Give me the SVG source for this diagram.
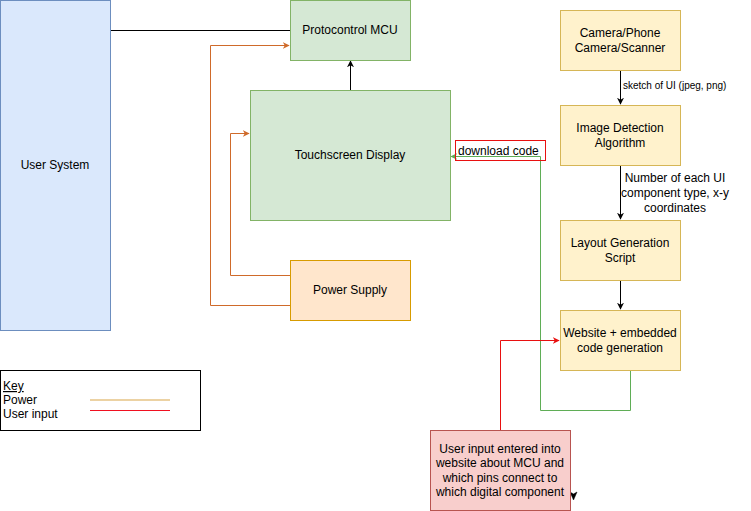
<svg xmlns="http://www.w3.org/2000/svg" width="751" height="511" viewBox="0 0 751 511">
<style>
text{font-family:"Liberation Sans",Arial,Helvetica,sans-serif;font-size:12px;fill:#000}
.c{text-anchor:middle}
.blue{fill:#dae8fc;stroke:#6c8ebf}
.green{fill:#d5e8d4;stroke:#82b366}
.orange{fill:#ffe6cc;stroke:#d79b00}
.yellow{fill:#fff2cc;stroke:#d6b656}
.red{fill:#f8cecc;stroke:#b85450}
.e{fill:none;stroke-width:1}
</style>
<defs>
<marker id="ab" viewBox="0 0 10 10" refX="9" refY="5" markerWidth="7" markerHeight="7" orient="auto" markerUnits="userSpaceOnUse"><path d="M0,0 L10,5 L0,10 L3,5 Z" fill="#000"/></marker>
<marker id="ao" viewBox="0 0 10 10" refX="9" refY="5" markerWidth="7" markerHeight="7" orient="auto" markerUnits="userSpaceOnUse"><path d="M0,0 L10,5 L0,10 L3,5 Z" fill="#cf6a2a"/></marker>
<marker id="ag" viewBox="0 0 10 10" refX="9" refY="5" markerWidth="7" markerHeight="7" orient="auto" markerUnits="userSpaceOnUse"><path d="M0,0 L10,5 L0,10 L3,5 Z" fill="#5fad56"/></marker>
<marker id="ar" viewBox="0 0 10 10" refX="9" refY="5" markerWidth="7" markerHeight="7" orient="auto" markerUnits="userSpaceOnUse"><path d="M0,0 L10,5 L0,10 L3,5 Z" fill="#e81010"/></marker>
</defs>
<rect width="751" height="511" fill="#fff"/>

<g id="connectors">
<path class="e" d="M110.5,30.5 H290" stroke="#000"/>
<path class="e" d="M350.5,90 V61" stroke="#000" marker-end="url(#ab)"/>
<path class="e" d="M290,305.5 H210.5 V45.5 H289" stroke="#cf6a2a" marker-end="url(#ao)"/>
<path class="e" d="M290,275.5 H230.5 V133.5 H249" stroke="#cf6a2a" marker-end="url(#ao)"/>
<path class="e" d="M630.5,370 V410.5 H540.5 V156.5 H451" stroke="#5fad56" marker-end="url(#ag)"/>
<path class="e" d="M500.5,430 V340.5 H559" stroke="#e81010" marker-end="url(#ar)"/>
<path class="e" d="M620.5,70 V104" stroke="#000" marker-end="url(#ab)"/>
<path class="e" d="M620.5,165 V219" stroke="#000" marker-end="url(#ab)"/>
<path class="e" d="M620.5,280 V309" stroke="#000" marker-end="url(#ab)"/>
<path d="M570,492 L573.5,500 L577,492 L573.5,494 Z" fill="#000" stroke="#000" stroke-width="0.5"/>
<text x="623" y="89" style="font-size:10px">sketch of UI (jpeg, png)</text>
<g class="c">
<text x="675" y="182">Number of each UI</text>
<text x="675" y="197">component type, x-y</text>
<text x="675" y="212">coordinates</text>
</g>
</g>

<g id="user-system"><rect class="blue" x="0.5" y="0.5" width="110" height="330"/><text class="c" x="55" y="169">User System</text></g>
<g id="protocontrol-mcu"><rect class="green" x="290.5" y="0.5" width="120" height="60"/><text class="c" x="350" y="34">Protocontrol MCU</text></g>
<g id="touchscreen"><rect class="green" x="250.5" y="90.5" width="200" height="130"/><text class="c" x="350" y="159">Touchscreen Display</text></g>
<g id="power-supply"><rect class="orange" x="290.5" y="260.5" width="120" height="60"/><text class="c" x="350" y="294">Power Supply</text></g>
<g id="download-code"><rect x="455.5" y="140.5" width="90" height="20" fill="none" stroke="#e81010"/><text x="458" y="155">download code</text></g>
<g id="camera"><rect class="yellow" x="560.5" y="10.5" width="120" height="60"/><text class="c" x="620" y="37">Camera/Phone</text><text class="c" x="620" y="52">Camera/Scanner</text></g>
<g id="image-detection"><rect class="yellow" x="560.5" y="105.5" width="120" height="60"/><text class="c" x="620" y="132">Image Detection</text><text class="c" x="620" y="147">Algorithm</text></g>
<g id="layout-generation"><rect class="yellow" x="560.5" y="220.5" width="120" height="60"/><text class="c" x="620" y="247">Layout Generation</text><text class="c" x="620" y="262">Script</text></g>
<g id="website"><rect class="yellow" x="560.5" y="310.5" width="120" height="60"/><text class="c" x="620" y="337">Website + embedded</text><text class="c" x="620" y="352">code generation</text></g>
<g id="user-input"><rect class="red" x="430.5" y="430.5" width="140" height="80"/>
<g class="c"><text x="500" y="453">User input entered into</text><text x="500" y="467">website about MCU and</text><text x="500" y="482">which pins connect to</text><text x="500" y="496">which digital component</text></g></g>
<g id="key"><rect x="0.5" y="370.5" width="200" height="60" fill="#fff" stroke="#000"/>
<text x="3" y="390" text-decoration="underline">Key</text><text x="3" y="404">Power</text><text x="3" y="418">User input</text>
<line x1="90" y1="400" x2="170" y2="400" stroke="#e6c385" stroke-width="1.5"/>
<line x1="90" y1="410.5" x2="170" y2="410.5" stroke="#f01020" stroke-width="1"/>
</g>
</svg>
